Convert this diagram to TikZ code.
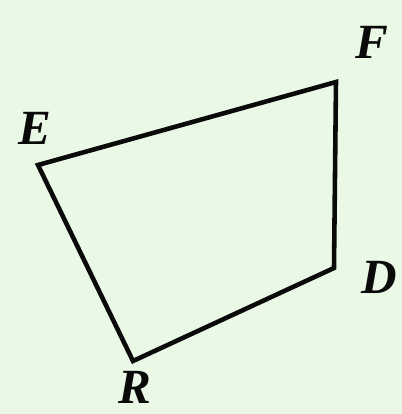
\documentclass[tikz,border=0pt]{standalone}
\usepackage{fontspec}
\setmainfont{Liberation Serif}
\definecolor{Bgcol}{HTML}{EAF9E6}
\definecolor{Edgecol}{HTML}{0A0A0A}
\tikzset{
    vlabel/.style={font=\fontsize{28}{28}\selectfont\bfseries\itshape, text=Edgecol, inner sep=0pt},
    edge/.style={Edgecol, line width=2.6pt, line join=miter}
}
\begin{document}
\begin{tikzpicture}[x=0.02cm, y=-0.02cm]
    % Background
    \fill[Bgcol] (0,0) rectangle (402,414);
    \useasboundingbox (0,0) rectangle (402,414);

    % Vertices
    \coordinate (E) at (38,165);
    \coordinate (F) at (336,82);
    \coordinate (D) at (334,268);
    \coordinate (R) at (133,361);

    % Quadrilateral
    \draw[edge] (E) -- (F) -- (D) -- (R) -- cycle;

    % Labels
    \node[vlabel] (labE) at (35,128) {E};
    \node[vlabel] (labF) at (372,42) {F};
    \node[vlabel] (labD) at (379,277) {D};
    \node[vlabel] (labR) at (135,387) {R};
\end{tikzpicture}
\end{document}
